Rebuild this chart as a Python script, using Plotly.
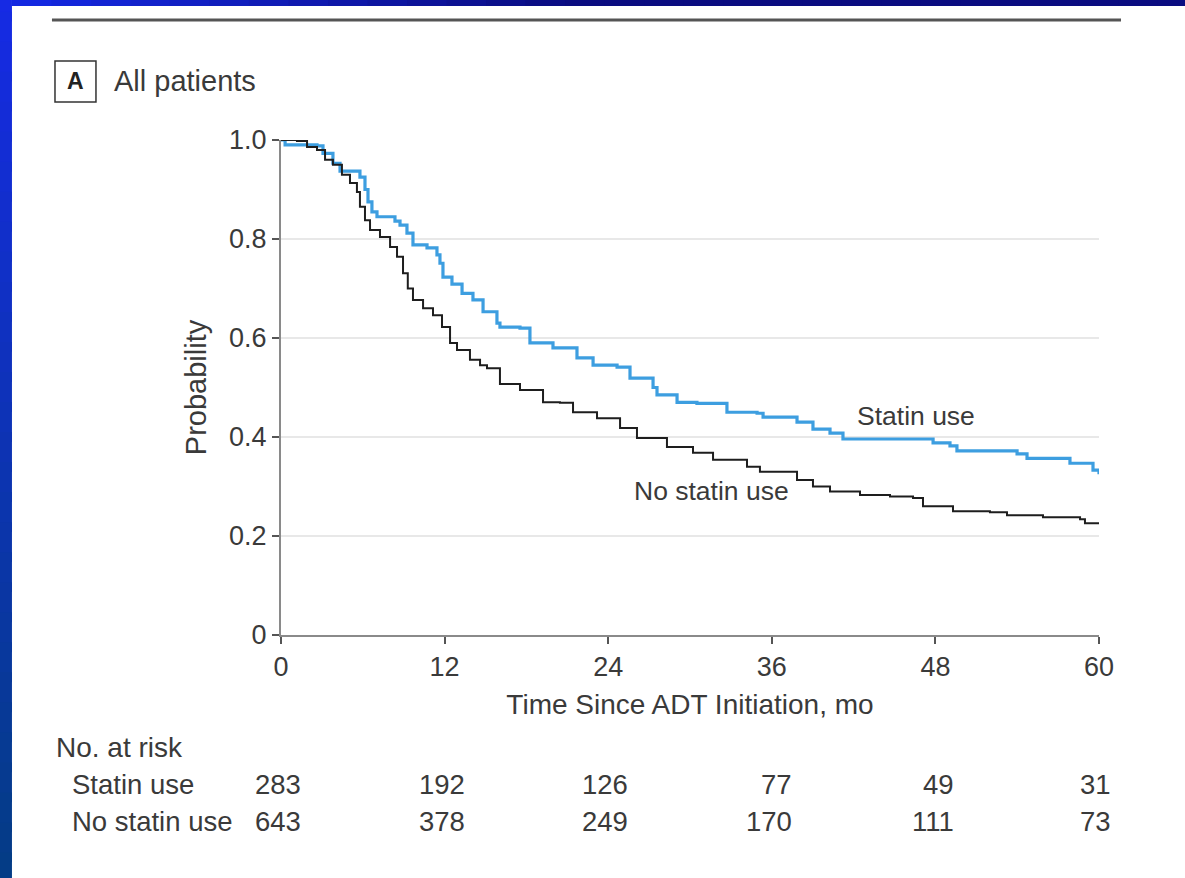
import plotly.graph_objects as go

# ---------------- data ----------------
statin_t = [0, 0.3, 2.64, 3.08, 3.81, 4.33, 5.43, 5.79, 6.16, 6.38, 6.67, 7.04, 8.36, 8.73, 9.24,
            9.68, 10.71, 11.44, 11.66, 11.88, 12.54, 13.28, 14.08, 14.82, 15.84, 16.06, 17.53,
            18.26, 19.95, 21.71, 22.89, 24.65, 25.6, 27.29, 27.58, 29.05, 30.51, 32.71, 34.92,
            35.36, 37.56, 37.85, 39.02, 40.27, 41.22, 47.39, 47.83, 49.07, 49.58, 53.69, 53.99,
            54.72, 57.65, 57.87, 59.12, 59.56, 60.0]
statin_s = [1.0, 0.99, 0.988, 0.973, 0.953, 0.937, 0.937, 0.925, 0.90, 0.875, 0.855, 0.845, 0.836,
            0.828, 0.812, 0.788, 0.782, 0.768, 0.751, 0.723, 0.709, 0.69, 0.677, 0.653, 0.63, 0.622,
            0.62, 0.59, 0.58, 0.56, 0.545, 0.541, 0.519, 0.50, 0.485, 0.47, 0.468, 0.45, 0.448,
            0.44, 0.44, 0.43, 0.416, 0.408, 0.396, 0.396, 0.388, 0.382, 0.372, 0.372, 0.366,
            0.357, 0.357, 0.347, 0.347, 0.333, 0.325]

nostatin_t = [0, 1.17, 1.91, 2.64, 3.23, 3.81, 4.47, 5.06, 5.57, 5.79, 6.16, 6.53, 7.26, 8.0, 8.51,
              8.95, 9.3, 9.68, 10.42, 11.15, 11.81, 12.4, 12.91, 13.86, 14.6, 15.11, 16.06, 17.53,
              19.22, 20.46, 21.42, 23.18, 24.87, 26.11, 28.31, 30.22, 31.69, 34.18, 35.13, 36.6,
              37.85, 39.02, 40.27, 42.47, 44.67, 46.36, 47.09, 49.29, 52.0, 53.25, 55.89, 58.61,
              58.97, 60.0]
nostatin_s = [1.0, 0.998, 0.986, 0.98, 0.96, 0.95, 0.93, 0.913, 0.895, 0.865, 0.838, 0.818, 0.804,
              0.784, 0.764, 0.731, 0.70, 0.677, 0.66, 0.646, 0.622, 0.59, 0.576, 0.556, 0.545, 0.539,
              0.507, 0.495, 0.47, 0.469, 0.45, 0.438, 0.418, 0.398, 0.38, 0.368, 0.354, 0.34,
              0.33, 0.33, 0.313, 0.30, 0.29, 0.283, 0.28, 0.277, 0.26, 0.25, 0.248, 0.242, 0.238,
              0.234, 0.226, 0.224]

x_ticks = [0, 12, 24, 36, 48, 60]
y_ticks = [0, 0.2, 0.4, 0.6, 0.8, 1.0]
y_tick_labels = ["0", "0.2", "0.4", "0.6", "0.8", "1.0"]

risk_groups = ["Statin use", "No statin use"]
risk_statin = [283, 192, 126, 77, 49, 31]
risk_nostatin = [643, 378, 249, 170, 111, 73]

# ---------------- style ----------------
FONT = "Liberation Sans, Arial, sans-serif"
TXT = "#3a3a3a"
FS_TICK = 27
FS_TXT = 29
FS_TITLE = 28
FS_TABLE = 27.5
FS_LBL = 26.5
BLUE = "#3d9ee0"
BLACK = "#1e1e1e"

fig = go.Figure()
fig.add_trace(go.Scatter(x=statin_t, y=statin_s, mode="lines", line=dict(shape="hv", color=BLUE, width=3.2),
                         showlegend=False, hoverinfo="skip"))
fig.add_trace(go.Scatter(x=nostatin_t, y=nostatin_s, mode="lines", line=dict(shape="hv", color=BLACK, width=2),
                         showlegend=False, hoverinfo="skip"))

shapes = []
def lerp(c1, c2, t):
    t = max(0.0, min(1.0, t))
    return "rgb(%d,%d,%d)" % tuple(round(a + (b - a) * t) for a, b in zip(c1, c2))

# blue frame (gradient approximated with overlapping bands)
n = 30
top, bot = 1.32, -0.50
for i in range(n):
    y1 = top - (top - bot) * i / n
    y0 = top - (top - bot) * (i + 1) / n - 0.02
    shapes.append(dict(type="rect", xref="paper", yref="paper", x0=-0.36, x1=-0.3289, y0=y0, y1=y1,
                       line=dict(width=0), fillcolor=lerp((22, 42, 228), (4, 60, 134), i / (n - 1)),
                       layer="below"))
left, right = -0.3289, 1.12
for i in range(n):
    x0 = left + (right - left) * i / n
    x1 = left + (right - left) * (i + 1) / n + 0.02
    shapes.append(dict(type="rect", xref="paper", yref="paper", x0=x0, x1=x1, y0=1.2707, y1=1.32,
                       line=dict(width=0), fillcolor=lerp((20, 40, 225), (10, 12, 128), i / (n * 0.45)),
                       layer="below"))
# top rule
shapes.append(dict(type="line", xref="paper", yref="paper", x0=-0.280, x1=1.0269, y0=1.2424, y1=1.2424,
                   line=dict(color="#555555", width=3)))
# panel letter box
shapes.append(dict(type="rect", xref="paper", yref="paper", x0=-0.2763, x1=-0.2262, y0=1.0768, y1=1.1596,
                   line=dict(color="#333333", width=1.5)))

def A(text, x, y, xref="paper", yref="paper", xanchor="center", size=FS_TXT, **kw):
    d = dict(text=text, x=x, y=y, xref=xref, yref=yref, xanchor=xanchor, yanchor="middle",
             showarrow=False, font=dict(size=size, color=kw.pop("color", TXT), family=FONT))
    d.update(kw)
    return d

ann = []
ann.append(A("<b>A</b>", (-0.2763 - 0.2262) / 2, 1.1182, size=23, color="#222222"))
ann.append(A("All patients", -0.2066, 1.1182, xanchor="left"))
ann.append(A("Statin use", 46.58, 0.4424, xref="x", yref="y", size=FS_LBL))
ann.append(A("No statin use", 31.6, 0.291, xref="x", yref="y", size=FS_LBL))
ann.append(A("No. at risk", -0.2775, -0.228, xanchor="left", size=FS_TABLE + 0.5))
row_y = [-0.303, -0.376]
row_vals = [risk_statin, risk_nostatin]
shifts = [22, 22, 22, 22, 21, 14]
for g, yy, vals in zip(risk_groups, row_y, row_vals):
    ann.append(A(g, -0.2575, yy, xanchor="left", size=FS_TABLE))
    for xt, v, s in zip(x_ticks, vals, shifts):
        ann.append(A(str(v), xt, yy, xref="x", xanchor="right", xshift=s, size=FS_TABLE))

fig.update_layout(
    width=1185, height=878, autosize=False,
    margin=dict(l=281, r=86, t=140, b=243),
    paper_bgcolor="white", plot_bgcolor="white",
    shapes=shapes, annotations=ann,
    font=dict(family=FONT, color=TXT, size=FS_TXT),
    xaxis=dict(range=[0, 60], tickvals=x_ticks, ticktext=[str(v) for v in x_ticks],
               showgrid=False, zeroline=False, showline=True, linecolor="#8a8a8a", linewidth=2,
               ticks="outside", ticklen=7, tickcolor="#555555", tickwidth=1.5,
               tickfont=dict(size=FS_TICK, color=TXT, family=FONT),
               title=dict(text="Time Since ADT Initiation, mo", standoff=13,
                          font=dict(size=FS_TITLE, color=TXT, family=FONT))),
    yaxis=dict(range=[0, 1.0], tickvals=y_ticks, ticktext=y_tick_labels,
               showgrid=True, gridcolor="#e8e8e8", gridwidth=2, zeroline=False,
               showline=True, linecolor="#8a8a8a", linewidth=2,
               ticks="outside", ticklen=7, tickcolor="#555555", tickwidth=1.5,
               tickfont=dict(size=FS_TICK, color=TXT, family=FONT),
               title=dict(text="Probability", standoff=14,
                          font=dict(size=FS_TXT, color=TXT, family=FONT))),
)

fig.write_html("out.html", config={"displayModeBar": False},
               post_script="document.body.style.margin='0';document.body.style.overflow='hidden';")
